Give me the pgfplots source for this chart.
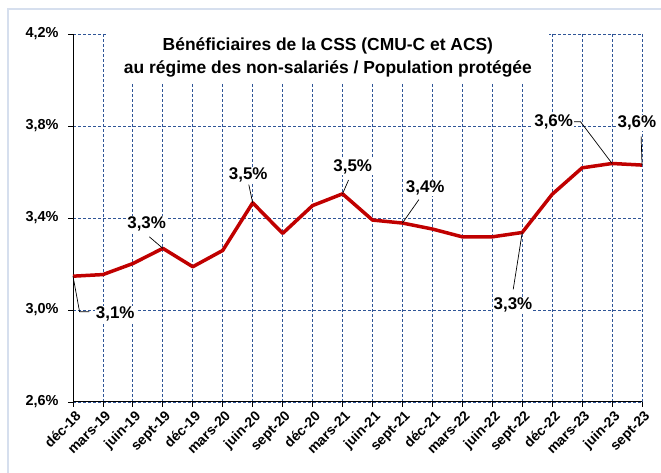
\documentclass[border=0pt]{standalone}
\usepackage{fontspec}
\setmainfont{Liberation Sans}
\usepackage{pgfplots}
\pgfplotsset{compat=1.18}
\definecolor{gridblue}{HTML}{2F5597}
\definecolor{linered}{HTML}{C00000}
\definecolor{framecol}{HTML}{D6DFEE}
\begin{document}
\begin{tikzpicture}[x=1bp,y=1bp]
\path[use as bounding box] (0,0) rectangle (661,473);
\draw[framecol, line width=1.5bp] (8,-5) rectangle (670,464);
\begin{axis}[
  at={(73bp,71bp)}, anchor=south west, scale only axis,
  width=569bp, height=368bp,
  xmin=0, xmax=19, ymin=2.6, ymax=4.2,
  xtick={0,...,19},
  xticklabels={déc-18,mars-19,juin-19,sept-19,déc-19,mars-20,juin-20,sept-20,déc-20,mars-21,juin-21,sept-21,déc-21,mars-22,juin-22,sept-22,déc-22,mars-23,juin-23,sept-23},
  ytick={2.6,3.0,3.4,3.8,4.2},
  yticklabels={{2,6\%},{3,0\%},{3,4\%},{3,8\%},{4,2\%}},
  axis x line*=bottom, axis y line*=left,
  axis line style={black, line width=1bp},
  tick align=outside, major tick length=5bp,
  tick style={black, line width=0.8bp},
  grid=major,
  major grid style={gridblue, dash pattern=on 3bp off 2bp, line width=0.9bp},
  xticklabel style={rotate=45, anchor=north east, font=\bfseries\fontsize{14}{15}\selectfont, inner sep=1bp, yshift=-2bp},
  yticklabel style={font=\bfseries\fontsize{14.5}{15}\selectfont, xshift=-6bp},
  clip=false,
]
\addplot[linered, line width=3.5bp, line join=round] coordinates {
(0,3.147) (1,3.154) (2,3.202) (3,3.268) (4,3.188) (5,3.259) (6,3.466) (7,3.333)
(8,3.454) (9,3.505) (10,3.391) (11,3.378) (12,3.352) (13,3.318) (14,3.318)
(15,3.337) (16,3.503) (17,3.618) (18,3.637) (19,3.630)};
% title
\node[fill=white, anchor=north, minimum width=442bp, minimum height=50bp, align=center,
      font=\bfseries\fontsize{17.5}{23}\selectfont, inner sep=2bp]
  at (rel axis cs:0.448,1.004) {Bénéficiaires de la CSS (CMU-C et ACS)\\au régime des non-salariés / Population protégée};
% leader lines
\begin{scope}[black, line width=0.7bp]
\draw (axis cs:0,3.147) -- (axis cs:0.22,2.992) -- (axis cs:0.55,2.992);
\draw (axis cs:2.55,3.318) -- (axis cs:3,3.268);
\draw (axis cs:5.87,3.545) -- (axis cs:6,3.466);
\draw (axis cs:9.2,3.565) -- (axis cs:9,3.505);
\draw (axis cs:11.55,3.48) -- (axis cs:11,3.378);
\draw (axis cs:14.7,3.09) -- (axis cs:15,3.337);
\draw (axis cs:16.7,3.818) -- (axis cs:16.95,3.818) -- (axis cs:18,3.637);
\draw (axis cs:18.97,3.755) -- (axis cs:19,3.630);
\end{scope}
% data labels
\begin{scope}[every node/.style={fill=white, inner sep=1bp, font=\bfseries\fontsize{17}{18}\selectfont}]
\node at (axis cs:1.41,2.982) {3,1\%};
\node at (axis cs:2.46,3.374) {3,3\%};
\node at (axis cs:5.85,3.586) {3,5\%};
\node at (axis cs:9.34,3.623) {3,5\%};
\node at (axis cs:11.76,3.530) {3,4\%};
\node at (axis cs:14.69,3.022) {3,3\%};
\node at (axis cs:16.05,3.817) {3,6\%};
\node at (axis cs:18.83,3.813) {3,6\%};
\end{scope}
\end{axis}
\end{tikzpicture}
\end{document}
